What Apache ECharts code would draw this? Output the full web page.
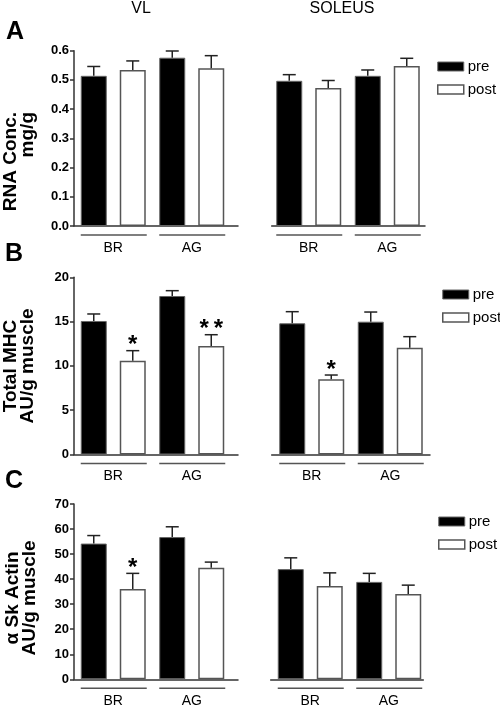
<!DOCTYPE html>
<html><head><meta charset="utf-8">
<script src="https://cdn.jsdelivr.net/npm/echarts@6/dist/echarts.min.js"></script>
<style>html,body{margin:0;padding:0;background:#fff}#c{width:500px;height:706px}</style>
</head><body><div id="c"></div>
<script>
// ---------- data ----------
const groups = ['BR', 'AG'];
const seriesNames = ['pre', 'post'];
const colTitles = ['VL', 'SOLEUS'];
const panelLetters = ['A', 'B', 'C'];
const yNames = ['RNA Conc.\nmg/g', 'Total MHC\nAU/g muscle', 'α Sk Actin\nAU/g muscle'];
const yMax = [0.6, 20, 70];
const yStep = [0.1, 5, 10];
const yDecimals = [1, 0, 0];

// A: RNA concentration (mg/g)
const vlA_pre = [0.514, 0.576],  vlA_preErr = [0.032, 0.023];
const vlA_post = [0.534, 0.540], vlA_postErr = [0.031, 0.043];
const vlA_sig = ['', ''];
const solA_pre = [0.497, 0.514],  solA_preErr = [0.021, 0.020];
const solA_post = [0.472, 0.548], solA_postErr = [0.026, 0.026];
const solA_sig = ['', ''];

// B: Total MHC (AU/g muscle)
const vlB_pre = [15.07, 17.89],  vlB_preErr = [0.79, 0.60];
const vlB_post = [10.59, 12.25], vlB_postErr = [1.13, 1.27];
const vlB_sig = ['*', '**'];
const solB_pre = [14.81, 14.99], solB_preErr = [1.31, 1.09];
const solB_post = [8.49, 12.05], solB_postErr = [0.48, 1.25];
const solB_sig = ['*', ''];

// C: alpha skeletal actin (AU/g muscle)
const vlC_pre = [54.2, 56.8],  vlC_preErr = [3.2, 4.1];
const vlC_post = [36.1, 44.5], vlC_postErr = [6.2, 2.3];
const vlC_sig = ['*', ''];
const solC_pre = [44.0, 38.9],  solC_preErr = [4.5, 3.4];
const solC_post = [37.3, 34.1], solC_postErr = [5.2, 3.5];
const solC_sig = ['', ''];

// ---------- layout / style ----------
const FONT = "'Liberation Sans', Arial, Helvetica, sans-serif";
const BAR_W = 26, BAR_GAP = 13, CAP = 13, SIG_GAP = 5;
const AXIS_COLOR = '#333', ERR_COLOR = '#222', GROUP_LINE = '#555';
const rowTop = [50.7, 277.3, 504];
const rowBottom = [226, 454.5, 679.3];
const gridLeft = [[74, 74, 74], [269.5, 272.5, 271]];
const frameX = [[[74, 238], [74, 238], [74, 238]], [[271.7, 425], [271.7, 430], [270.7, 423.3]]];
const legendPos = [[437, 59], [442, 287], [438, 514]];

const panels = [
  [{pre: vlA_pre, preErr: vlA_preErr, post: vlA_post, postErr: vlA_postErr, sig: vlA_sig},
   {pre: solA_pre, preErr: solA_preErr, post: solA_post, postErr: solA_postErr, sig: solA_sig}],
  [{pre: vlB_pre, preErr: vlB_preErr, post: vlB_post, postErr: vlB_postErr, sig: vlB_sig},
   {pre: solB_pre, preErr: solB_preErr, post: solB_post, postErr: solB_postErr, sig: solB_sig}],
  [{pre: vlC_pre, preErr: vlC_preErr, post: vlC_post, postErr: vlC_postErr, sig: vlC_sig},
   {pre: solC_pre, preErr: solC_preErr, post: solC_post, postErr: solC_postErr, sig: solC_sig}]
];

const preStyle = {color: '#000', borderColor: '#666', borderWidth: 1};
const postStyle = {color: '#fff', borderColor: '#555', borderWidth: 1.5};

function errRender(sign, sigs) {
  return function (params, api) {
    const i = api.value(0), m = api.value(1), e = api.value(2);
    const base = api.coord([i, m]);
    const top = api.coord([i, m + e]);
    const x = base[0] + sign * (BAR_W + BAR_GAP) / 2;
    const children = [
      {type: 'line', shape: {x1: x, y1: base[1], x2: x, y2: top[1]}, style: {stroke: ERR_COLOR, lineWidth: 1.5}},
      {type: 'line', shape: {x1: x - CAP / 2, y1: top[1], x2: x + CAP / 2, y2: top[1]}, style: {stroke: ERR_COLOR, lineWidth: 1.5}}
    ];
    const s = sigs ? sigs[params.dataIndex] : '';
    if (s) {
      children.push({type: 'text', x: x, y: top[1] - SIG_GAP,
        style: {text: s.split('').join('\u2009'), font: 'bold 24px ' + FONT, align: 'center', verticalAlign: 'middle', fill: '#000'}});
    }
    return {type: 'group', children: children};
  };
}

function groupRender(params, api) {
  const i = api.value(0);
  const c = api.coord([i, 0]);
  const half = (BAR_W + BAR_GAP) / 2 + BAR_W / 2;
  return {type: 'group', children: [
    {type: 'line', shape: {x1: c[0] - half, y1: c[1] + 9, x2: c[0] + half + 1, y2: c[1] + 9},
     style: {stroke: GROUP_LINE, lineWidth: 1.5}},
    {type: 'text', x: c[0], y: c[1] + 22,
     style: {text: groups[i], font: '14px ' + FONT, align: 'center', verticalAlign: 'middle', fill: '#000'}}
  ]};
}

const grid = [], xAxis = [], yAxis = [], series = [], legend = [];
let gi = 0;
for (let r = 0; r < 3; r++) {
  for (let c = 0; c < 2; c++) {
    const p = panels[r][c];
    const top = rowTop[r], h = rowBottom[r] - rowTop[r];
    grid.push({left: gridLeft[c][r], top: top, width: 157, height: h});
    xAxis.push({type: 'category', gridIndex: gi, data: groups, axisLine: {show: false},
      axisTick: {show: false}, axisLabel: {show: false}, splitLine: {show: false}});
    yAxis.push({type: 'value', gridIndex: gi, min: 0, max: yMax[r], interval: yStep[r],
      show: c === 0, splitLine: {show: false},
      axisLine: {show: true, lineStyle: {color: AXIS_COLOR, width: 1.5}},
      axisTick: {show: true, length: 4, lineStyle: {color: AXIS_COLOR, width: 1.5}},
      axisLabel: {margin: 5, color: '#000', fontFamily: FONT, fontWeight: 'bold', fontSize: 13,
        formatter: (function (d) { return function (v) { return v.toFixed(d); }; })(yDecimals[r])}});
    series.push({type: 'bar', name: 'pre', xAxisIndex: gi, yAxisIndex: gi, data: p.pre,
      barWidth: BAR_W, barGap: (BAR_GAP / BAR_W * 100) + '%', itemStyle: preStyle, z: 2, silent: true});
    series.push({type: 'bar', name: 'post', xAxisIndex: gi, yAxisIndex: gi, data: p.post,
      barWidth: BAR_W, barGap: (BAR_GAP / BAR_W * 100) + '%', itemStyle: postStyle, z: 2, silent: true});
    series.push({type: 'custom', name: 'preErr', xAxisIndex: gi, yAxisIndex: gi, clip: false, z: 3,
      data: p.pre.map(function (v, i) { return [i, v, p.preErr[i]]; }), renderItem: errRender(-1, null), silent: true});
    series.push({type: 'custom', name: 'postErr', xAxisIndex: gi, yAxisIndex: gi, clip: false, z: 3,
      data: p.post.map(function (v, i) { return [i, v, p.postErr[i]]; }), renderItem: errRender(1, p.sig), silent: true});
    series.push({type: 'custom', name: 'groups', xAxisIndex: gi, yAxisIndex: gi, clip: false, z: 3,
      data: groups.map(function (g, i) { return [i, 0]; }), renderItem: groupRender, silent: true});
    gi++;
  }
}
// frame grids carrying the x axis base line
for (let r = 0; r < 3; r++) {
  for (let c = 0; c < 2; c++) {
    const fx = frameX[c][r];
    grid.push({left: fx[0], top: rowTop[r], width: fx[1] - fx[0], height: rowBottom[r] - rowTop[r]});
    xAxis.push({type: 'value', gridIndex: gi, min: 0, max: 1, axisLine: {show: true, onZero: false, lineStyle: {color: AXIS_COLOR, width: 1.5}},
      axisTick: {show: false}, axisLabel: {show: false}, splitLine: {show: false}});
    yAxis.push({type: 'value', gridIndex: gi, min: 0, max: 1, show: false, splitLine: {show: false}});
    gi++;
  }
}
for (let r = 0; r < 3; r++) {
  legend.push({data: [
      {name: 'pre', icon: 'rect', itemStyle: preStyle},
      {name: 'post', icon: 'rect', itemStyle: postStyle}],
    orient: 'vertical', left: legendPos[r][0], top: legendPos[r][1], padding: 0,
    itemWidth: 26, itemHeight: 9, itemGap: 8, selectedMode: false,
    textStyle: {fontFamily: FONT, fontSize: 15, lineHeight: 14, color: '#000', padding: [0, 0, 0, -1]}});
}

const graphic = [
  {type: 'text', x: 141, y: 9, style: {text: colTitles[0], font: '16px ' + FONT, align: 'center', verticalAlign: 'middle', fill: '#000'}},
  {type: 'text', x: 342, y: 9, style: {text: colTitles[1], font: '16px ' + FONT, align: 'center', verticalAlign: 'middle', fill: '#000'}},
  {type: 'text', x: 15, y: 32, style: {text: panelLetters[0], font: 'bold 25px ' + FONT, align: 'center', verticalAlign: 'middle', fill: '#000'}},
  {type: 'text', x: 14, y: 254, style: {text: panelLetters[1], font: 'bold 25px ' + FONT, align: 'center', verticalAlign: 'middle', fill: '#000'}},
  {type: 'text', x: 14, y: 481, style: {text: panelLetters[2], font: 'bold 25px ' + FONT, align: 'center', verticalAlign: 'middle', fill: '#000'}},
  {type: 'text', x: 19, y: 112, rotation: Math.PI / 2, style: {text: yNames[0], font: 'bold 19px ' + FONT, lineHeight: 17, align: 'right', verticalAlign: 'middle', fill: '#000'}},
  {type: 'text', x: 19, y: 366, rotation: Math.PI / 2, style: {text: yNames[1], font: 'bold 19px ' + FONT, lineHeight: 17, align: 'center', verticalAlign: 'middle', fill: '#000'}},
  {type: 'text', x: 21, y: 598, rotation: Math.PI / 2, style: {text: yNames[2], font: 'bold 19px ' + FONT, lineHeight: 17, align: 'center', verticalAlign: 'middle', fill: '#000'}}
];

const chart = echarts.init(document.getElementById('c'), null, {renderer: 'canvas'});
chart.setOption({
  animation: false,
  backgroundColor: '#fff',
  grid: grid, xAxis: xAxis, yAxis: yAxis, series: series, legend: legend, graphic: graphic
});
</script></body></html>
